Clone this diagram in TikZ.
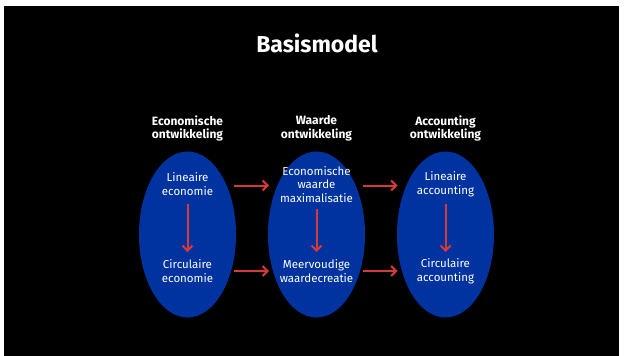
\documentclass[tikz,border=0pt]{standalone}
\usepackage{fontspec}
\setmainfont{Fira Sans}
\usetikzlibrary{arrows.meta,shapes.geometric}
\definecolor{ovalblue}{RGB}{0,51,160}
\definecolor{arrowred}{RGB}{214,57,58}
\tikzset{
  oval/.style={ellipse, fill=ovalblue, draw=none, minimum width=97pt, minimum height=166pt, inner sep=0pt},
  head/.style={text=white, font=\fontsize{12}{13.5}\selectfont\bfseries, align=center, inner sep=0pt},
  lbl/.style={text=white, font=\fontsize{11.5}{13.5}\selectfont, align=center, inner sep=0pt},
  flow/.style={draw=arrowred, line width=2pt, -{Straight Barb[length=5pt,width=10pt,line width=2pt]}},
}
\begin{document}
\begin{tikzpicture}[x=1pt,y=-1pt]
\useasboundingbox (0,0) rectangle (625,356);
\fill[white] (0,0) rectangle (625,356);
\fill[black] (4,6) rectangle (619,356);
\node[text=white, font=\fontsize{23}{27}\selectfont\bfseries, inner sep=0pt] (title) at (317,43) {Basismodel};

\node[oval] (o1) at (187.5,234.5) {};
\node[oval] (o2) at (316.5,234.5) {};
\node[oval] (o3) at (445.5,234.5) {};

\node[head] (h1) at (187.5,128.5) {Economische\\ontwikkeling};
\node[head] (h2) at (316.5,128.5) {Waarde\\ontwikkeling};
\node[head] (h3) at (445.5,128.5) {Accounting\\ontwikkeling};

\node[lbl] (a1) at (187.5,184) {Lineaire\\economie};
\node[lbl] (b1) at (187.5,271) {Circulaire\\economie};
\node[lbl] (a2) at (316.5,184.5) {Economische\\waarde\\maximalisatie};
\node[lbl] (b2) at (316.5,271) {Meervoudige\\waardecreatie};
\node[lbl] (a3) at (445.5,184) {Lineaire\\accounting};
\node[lbl] (b3) at (445.5,271) {Circulaire\\accounting};

\coordinate (s1) at (187.5,204);
\coordinate (e1) at (187.5,252);
\coordinate (s2) at (316.5,209);
\coordinate (e2) at (316.5,252);
\coordinate (s3) at (445.5,204);
\coordinate (e3) at (445.5,252);
\draw[flow] (s1) -- (e1);
\draw[flow] (s2) -- (e2);
\draw[flow] (s3) -- (e3);

\coordinate (p1) at (234,185.5);
\coordinate (q1) at (269,185.5);
\coordinate (p2) at (234,271);
\coordinate (q2) at (269,271);
\coordinate (p3) at (363,185.5);
\coordinate (q3) at (397.5,185.5);
\coordinate (p4) at (363,271);
\coordinate (q4) at (397.5,271);
\draw[flow] (p1) -- (q1);
\draw[flow] (p2) -- (q2);
\draw[flow] (p3) -- (q3);
\draw[flow] (p4) -- (q4);
\end{tikzpicture}
\end{document}
